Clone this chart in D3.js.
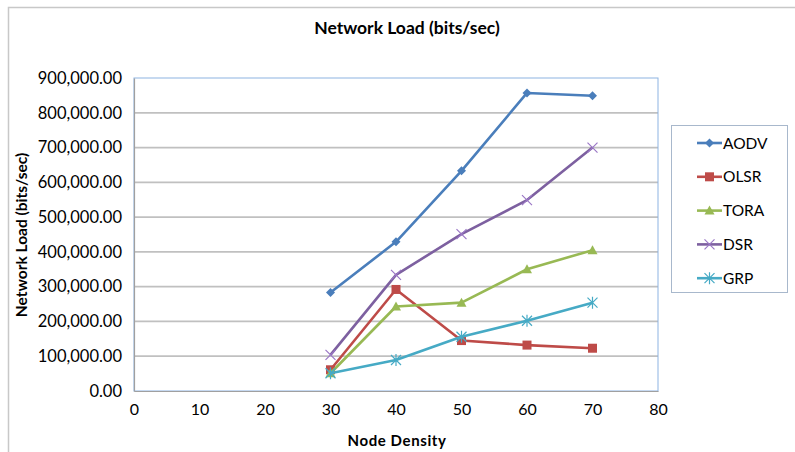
<!DOCTYPE html>
<html>
<head>
<meta charset="utf-8">
<script src="https://cdn.jsdelivr.net/npm/d3@7"></script>
<style>
  html, body { margin: 0; padding: 0; background: #fff; }
  svg { display: block; }
  text { font-family: Lato, "Open Sans", sans-serif; fill: #000; }
</style>
</head>
<body>
<svg id="chart" width="795" height="452"></svg>
<script>
// Node density values on the x axis
const nodeDensity = [30, 40, 50, 60, 70];

// Network load (bits/sec) per routing protocol
const aodv = [283000, 429000, 633000, 857000, 849000];
const olsr = [61000, 292000, 145000, 132000, 123000];
const tora = [51000, 243000, 254000, 350000, 405000];
const dsr  = [104000, 334000, 451000, 549000, 700000];
const grp  = [51000, 89000, 156000, 202000, 254000];

const seriesNames = ["AODV", "OLSR", "TORA", "DSR", "GRP"];
const seriesColors = ["#4A7EBB", "#BE4B48", "#98B954", "#7D60A0", "#46AAC5"];
const seriesMarkers = ["diamond", "square", "triangle", "cross", "star"];

const xTicks = [0, 10, 20, 30, 40, 50, 60, 70, 80];
const yTicks = [0, 100000, 200000, 300000, 400000, 500000, 600000, 700000, 800000, 900000];

const series = [aodv, olsr, tora, dsr, grp].map((vals, i) => ({
  name: seriesNames[i],
  color: seriesColors[i],
  marker: seriesMarkers[i],
  points: vals.map((v, j) => ({ x: nodeDensity[j], y: v }))
}));

const svg = d3.select("#chart");

// Outer chart frame
svg.append("rect")
  .attr("x", 8.5).attr("y", 7.5)
  .attr("width", 800).attr("height", 460)
  .attr("fill", "#fff")
  .attr("stroke", "#C8C8C8").attr("stroke-width", 1.5);

const plot = { left: 134, right: 658, top: 78, bottom: 391 };

const x = d3.scaleLinear().domain([0, 80]).range([plot.left, plot.right]);
const y = d3.scaleLinear().domain([0, 900000]).range([plot.bottom, plot.top]);

// Title
svg.append("text")
  .attr("x", 407).attr("y", 34)
  .attr("text-anchor", "middle")
  .style("font-weight", "bold").style("font-size", "17.5px")
  .text("Network Load (bits/sec)");

// Horizontal gridlines
svg.append("g")
  .selectAll("line")
  .data(yTicks.filter(t => t > 0 && t < 900000))
  .join("line")
  .attr("x1", plot.left).attr("x2", plot.right)
  .attr("y1", d => y(d)).attr("y2", d => y(d))
  .attr("stroke", "#C0C0C0").attr("stroke-width", 1.7);

// Plot area border (light blue)
svg.append("rect")
  .attr("x", plot.left).attr("y", plot.top)
  .attr("width", plot.right - plot.left).attr("height", plot.bottom - plot.top)
  .attr("fill", "none")
  .attr("stroke", "#8DB3E2").attr("stroke-width", 1);

// Y axis
const yAxis = d3.axisLeft(y)
  .tickValues(yTicks)
  .tickSize(0)
  .tickPadding(12)
  .tickFormat(d3.format(",.2f"));
const gy = svg.append("g").attr("transform", `translate(${plot.left},0)`).call(yAxis);
gy.select(".domain").attr("stroke", "#A0A0A0").attr("stroke-width", 1.2);
gy.selectAll("text").style("font-size", "16.5px").style("font-family", "Lato, sans-serif").attr("fill", "#111");

// X axis
const xAxis = d3.axisBottom(x)
  .tickValues(xTicks)
  .tickSize(0)
  .tickPadding(13)
  .tickFormat(d3.format("d"));
const gx = svg.append("g").attr("transform", `translate(0,${plot.bottom})`).call(xAxis);
gx.select(".domain").attr("stroke", "#A0A0A0").attr("stroke-width", 1.2);
gx.selectAll("text").style("font-size", "16px").style("font-family", "Lato, sans-serif").attr("fill", "#111");

// Axis titles
svg.append("text")
  .attr("x", 397).attr("y", 446)
  .attr("text-anchor", "middle")
  .style("font-weight", "bold").style("font-size", "15px")
  .style("letter-spacing", "0.6px")
  .text("Node Density");

svg.append("text")
  .attr("transform", "translate(27,235) rotate(-90)")
  .attr("text-anchor", "middle")
  .style("font-weight", "bold").style("font-size", "15.5px")
  .text("Network Load (bits/sec)");

// Marker drawing helper
function drawMarker(g, type, color, size) {
  const s = size;
  if (type === "diamond") {
    g.append("path").attr("d", `M0,${-s}L${s},0L0,${s}L${-s},0Z`).attr("fill", color);
  } else if (type === "square") {
    g.append("rect").attr("x", -s).attr("y", -s).attr("width", 2 * s).attr("height", 2 * s).attr("fill", color);
  } else if (type === "triangle") {
    g.append("path").attr("d", `M0,${-s}L${s},${s * 0.8}L${-s},${s * 0.8}Z`).attr("fill", color);
  } else if (type === "cross") {
    g.append("path").attr("d", `M${-s},${-s}L${s},${s}M${-s},${s}L${s},${-s}`)
      .attr("stroke", d3.color(color).brighter(0.6)).attr("stroke-width", 1.2).attr("fill", "none");
  } else if (type === "star") {
    g.append("path").attr("d", `M${-s},${-s}L${s},${s}M${-s},${s}L${s},${-s}M0,${-s * 1.2}L0,${s * 1.2}`)
      .attr("stroke", color).attr("stroke-width", 1.2).attr("fill", "none");
  }
}

const markerSize = { diamond: 4.5, square: 4.5, triangle: 5, cross: 5, star: 5 };

const line = d3.line().x(d => x(d.x)).y(d => y(d.y));

// Lines then markers, series in order
series.forEach(s => {
  svg.append("path")
    .datum(s.points)
    .attr("d", line)
    .attr("fill", "none")
    .attr("stroke", s.color)
    .attr("stroke-width", 2.6)
    .attr("stroke-linejoin", "round");
  s.points.forEach(p => {
    const g = svg.append("g").attr("transform", `translate(${x(p.x)},${y(p.y)})`);
    drawMarker(g, s.marker, s.color, markerSize[s.marker]);
  });
});

// Legend
const legend = svg.append("g");
legend.append("rect")
  .attr("x", 671.5).attr("y", 125.5)
  .attr("width", 116).attr("height", 167)
  .attr("fill", "#fff")
  .attr("stroke", "#A8B8CC").attr("stroke-width", 1);

series.forEach((s, i) => {
  const ly = 143 + i * 33.8;
  legend.append("line")
    .attr("x1", 697).attr("x2", 722)
    .attr("y1", ly).attr("y2", ly)
    .attr("stroke", s.color).attr("stroke-width", 2.6);
  const g = legend.append("g").attr("transform", `translate(709.5,${ly})`);
  drawMarker(g, s.marker, s.color, markerSize[s.marker]);
  legend.append("text")
    .attr("x", 723).attr("y", ly + 5.5)
    .style("font-size", "15.5px")
    .text(s.name);
});
</script>
</body>
</html>
